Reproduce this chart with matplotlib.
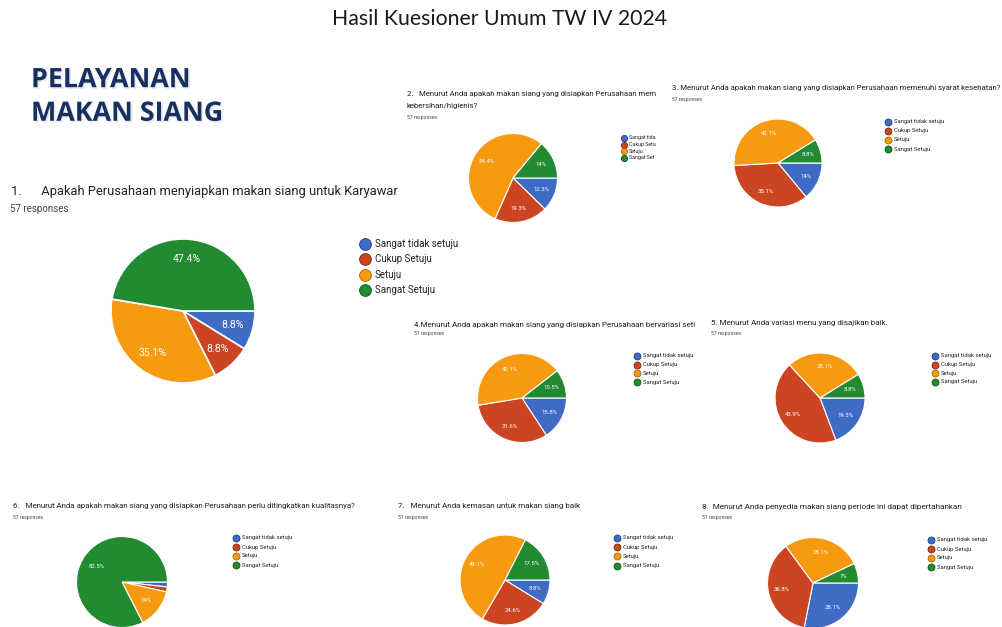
import matplotlib
matplotlib.use("Agg")
import matplotlib.pyplot as plt
from matplotlib.lines import Line2D
import matplotlib.patheffects as pe

# ---------------- data ----------------
CATEGORIES = ["Sangat tidak setuju", "Cukup Setuju", "Setuju", "Sangat Setuju"]
Q2_LEGEND = ["Sangat tida", "Cukup Setu", "Setuju", "Sangat Set"]

Q1 = [8.8, 8.8, 35.1, 47.4]
Q2 = [12.3, 19.3, 54.4, 14.0]
Q3 = [14.0, 35.1, 42.1, 8.8]
Q4 = [15.8, 31.6, 42.1, 10.5]
Q5 = [19.3, 43.9, 28.1, 8.8]
Q6 = [1.75, 1.75, 14.0, 82.5]
Q7 = [8.8, 24.6, 49.1, 17.5]
Q8 = [28.1, 36.8, 28.1, 7.0]

MAIN_TITLE = "Hasil Kuesioner Umum TW IV 2024"
SECTION = "PELAYANAN\nMAKAN SIANG"
RESP = "57 responses"
T1 = "1.      Apakah Perusahaan menyiapkan makan siang untuk Karyawar"
T2 = ["2.   Menurut Anda apakah makan siang yang disiapkan Perusahaan mem", "kebersihan/higienis?"]
T3 = "3. Menurut Anda apakah makan siang yang disiapkan Perusahaan memenuhi syarat kesehatan?"
T4 = "4.Menurut Anda apakah makan siang yang disiapkan Perusahaan bervariasi seti"
T5 = "5. Menurut Anda variasi menu yang disajikan baik."
T6 = "6.   Menurut Anda apakah makan siang yang disiapkan Perusahaan perlu ditingkatkan kualitasnya?"
T7 = "7.   Menurut Anda kemasan untuk makan siang baik"
T8 = "8.  Menurut Anda penyedia makan siang periode ini dapat dipertahankan"

# ---------------- style ----------------
COLORS = ["#3f6bc4", "#cc4522", "#f89a10", "#228a31"]
EDGES = ["#1d3c80", "#7e2710", "#a86406", "#0f5418"]
FONT = ["Roboto", "DejaVu Sans"]
W, H = 1003, 627

fig = plt.figure(figsize=(W / 100, H / 100), dpi=100)
fig.patch.set_facecolor("white")


def fx(x):
    return x / W


def fy(y):
    return 1 - y / H


def fmt(v):
    s = f"{v:.1f}"
    if s.endswith(".0"):
        s = s[:-2]
    return s + "%"


def draw_pie(vals, cx, cy, r, fs, lw, pctd=0.7):
    pad = 1.04
    rr = r * pad
    ax = fig.add_axes([(cx - rr) / W, 1 - (cy + rr) / H, 2 * rr / W, 2 * rr / H])
    it = iter(vals)

    def ap(_p):
        v = next(it)
        return fmt(v) if v >= 5 else ""

    ax.pie(vals, colors=COLORS, startangle=0, counterclock=False,
           autopct=ap, pctdistance=pctd,
           textprops=dict(color="white", fontsize=fs, family=FONT),
           wedgeprops=dict(edgecolor="white", linewidth=lw))
    ax.set_xlim(-pad, pad)
    ax.set_ylim(-pad, pad)
    ax.set_aspect("equal")
    ax.axis("off")
    return ax


def draw_legend(labels, x, y0, dy, fs, ms, gap):
    for i, lab in enumerate(labels):
        y = y0 + i * dy
        fig.add_artist(Line2D([fx(x)], [fy(y)], transform=fig.transFigure, marker="o",
                              ls="", markersize=ms, markerfacecolor=COLORS[i],
                              markeredgecolor=EDGES[i], markeredgewidth=0.6))
        fig.text(fx(x + gap), fy(y), lab, fontsize=fs, family=FONT, color="#222222",
                 va="center", ha="left")


def title(txt, x, y, fs, color="#202124"):
    fig.text(fx(x), fy(y), txt, fontsize=fs, family=FONT, color=color, va="center", ha="left")


# ---------------- header ----------------
fig.text(fx(500), fy(19), MAIN_TITLE, fontsize=15.3, family=["Lato", "DejaVu Sans"],
         color="#1a1a1a", ha="center", va="center")
fig.text(fx(31), fy(97), SECTION, fontsize=19.3, family=["Open Sans", "DejaVu Sans"],
         fontweight="bold", color="#17305f", ha="left", va="center", linespacing=1.38,
         path_effects=[pe.SimplePatchShadow(offset=(1.2, -1.2), shadow_rgbFace="#b8bfcc", alpha=0.35),
                       pe.Normal()])

# ---------------- chart 1 ----------------
title(T1, 11, 191, 9.3)
title(RESP, 10, 209, 7, color="#444444")
draw_pie(Q1, 183, 311, 72, 7.6, 1.2, pctd=0.72)
draw_legend(CATEGORIES, 365, 244, 15.3, 7.0, 8.5, 10)

# ---------------- chart 2 ----------------
title(T2[0], 407, 94, 5.6)
title(T2[1], 407, 106, 5.6)
title(RESP, 407, 117, 3.6, color="#444444")
draw_pie(Q2, 513, 178, 44.5, 4.3, 0.8)
draw_legend(Q2_LEGEND, 624, 138, 6.5, 3.8, 4.5, 5)

# ---------------- chart 3 ----------------
title(T3, 672, 88, 5.55)
title(RESP, 672, 99, 3.6, color="#444444")
draw_pie(Q3, 778, 163, 44, 4.3, 0.8)
draw_legend(CATEGORIES, 888, 122, 9, 4.2, 5, 6)

# ---------------- chart 4 ----------------
title(T4, 414, 325, 5.75)
title(RESP, 414, 334, 3.6, color="#444444")
draw_pie(Q4, 522, 398, 44.5, 4.3, 0.8)
draw_legend(CATEGORIES, 637, 356, 8.7, 4.2, 5, 6)

# ---------------- chart 5 ----------------
title(T5, 711, 323, 5.75)
title(RESP, 711, 333, 3.6, color="#444444")
draw_pie(Q5, 820, 398, 45, 4.3, 0.8)
draw_legend(CATEGORIES, 935, 356, 8.5, 4.2, 5, 6)

# ---------------- chart 6 ----------------
title(T6, 13, 506, 5.65)
title(RESP, 13, 517, 3.6, color="#444444")
draw_pie(Q6, 122, 582, 45.5, 4.3, 0.8, pctd=0.66)
draw_legend(CATEGORIES, 236, 538, 9, 4.2, 5, 6)

# ---------------- chart 7 ----------------
title(T7, 398, 506, 5.75)
title(RESP, 398, 517, 3.6, color="#444444")
draw_pie(Q7, 505, 580, 45, 4.3, 0.8)
draw_legend(CATEGORIES, 617, 538, 9.2, 4.2, 5, 6)

# ---------------- chart 8 ----------------
title(T8, 702, 507, 5.85)
title(RESP, 702, 518, 3.6, color="#444444")
draw_pie(Q8, 813, 583, 45.5, 4.3, 0.8)
draw_legend(CATEGORIES, 931, 540, 9, 4.2, 5, 6)

fig.savefig("out.png", dpi=100, facecolor="white")
